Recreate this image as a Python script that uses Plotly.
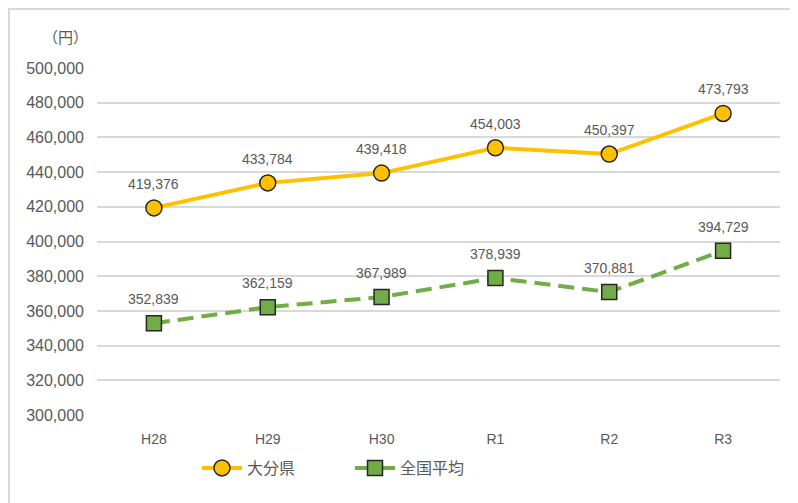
import plotly.graph_objects as go

categories = ["H28", "H29", "H30", "R1", "R2", "R3"]
oita = [419376, 433784, 439418, 454003, 450397, 473793]
national = [352839, 362159, 367989, 378939, 370881, 394729]
y_ticks = list(range(300000, 500001, 20000))

OFF = 8  # page body offset
W, H = 798 - OFF, 503 - OFF
L, R, T = 97 - OFF, 18, 68 - OFF
B = H - (415 - OFF)
pw, ph = W - L - R, H - T - B

def px(x):
    return (x - OFF - L) / pw

def py(y):
    return (415 - y) / ph

font_family = "Liberation Sans, Noto Sans CJK JP, sans-serif"
label_color = "#595959"

fig = go.Figure()
fig.add_trace(go.Scatter(
    x=categories, y=oita, name="大分県",
    mode="lines+markers",
    line=dict(color="#FFC000", width=4),
    marker=dict(symbol="circle", size=16, color="#FFC000",
                line=dict(color="#262626", width=1.5)),
))
fig.add_trace(go.Scatter(
    x=categories, y=national, name="全国平均",
    mode="lines+markers",
    line=dict(color="#70AD47", width=4, dash="16px,8px"),
    marker=dict(symbol="square", size=15, color="#70AD47",
                line=dict(color="#262626", width=1.5)),
))

annotations = []
for series in (oita, national):
    for c, v in zip(categories, series):
        annotations.append(dict(x=c, y=v, text=f"{v:,}", showarrow=False,
                                yshift=24, xanchor="center", yanchor="middle",
                                font=dict(size=14, color=label_color, family=font_family)))
annotations.append(dict(text="（円）", x=px(65), y=py(37), xref="paper", yref="paper",
                        showarrow=False, xanchor="center", yanchor="middle",
                        font=dict(size=15, color=label_color, family="Noto Sans CJK JP, sans-serif")))

fig.update_layout(
    width=W, height=H,
    margin=dict(l=L, r=R, t=T, b=B),
    paper_bgcolor="white", plot_bgcolor="white",
    font=dict(family=font_family, size=14, color=label_color),
    showlegend=True,
    legend=dict(orientation="h", x=px(197), xanchor="left", y=py(468), yanchor="middle",
                font=dict(size=16, color=label_color, family="Noto Sans CJK JP, sans-serif"),
                itemwidth=40, entrywidth=98, entrywidthmode="pixels"),
    xaxis=dict(range=[-0.5, 5.5], showgrid=False, showline=False, zeroline=False,
               tickfont=dict(size=14, color=label_color), ticks="", ticklabelstandoff=14),
    yaxis=dict(range=[300000, 500000], tickvals=y_ticks,
               ticktext=[f"{v:,}" for v in y_ticks],
               showgrid=True, gridcolor="#D9D9D9", gridwidth=1.5,
               zeroline=False, showline=False, ticks="", ticklabelstandoff=12,
               tickfont=dict(size=16, color=label_color)),
    annotations=annotations,
    shapes=[dict(type="rect", xref="paper", yref="paper",
                 x0=px(9), x1=px(820), y0=py(520), y1=py(9),
                 line=dict(color="#D9D9D9", width=2), layer="below")],
)

fig.write_html("out.html")
